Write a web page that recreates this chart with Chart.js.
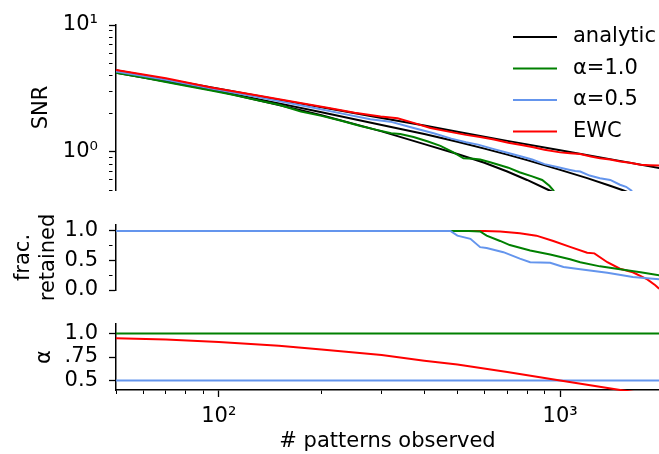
<!DOCTYPE html>
<html>
<head>
<meta charset="utf-8">
<script src="https://cdn.jsdelivr.net/npm/chart.js@4.4.1/dist/chart.umd.min.js"></script>
<style>
  html, body { margin: 0; padding: 0; background: #fff; overflow: hidden; }
  #wrap { position: relative; width: 659px; height: 454px; }
  canvas { position: absolute; left: 0; }
</style>
</head>
<body>
<div id="wrap">
  <canvas id="snrChart" width="659" height="215" style="top:0px"></canvas>
  <canvas id="fracChart" width="659" height="115" style="top:200px"></canvas>
  <canvas id="alphaChart" width="659" height="154" style="top:300px"></canvas>
</div>
<script>
// ---- data ----
const xTicks = [50, 60, 70, 80, 90, 100, 200, 300, 400, 500, 600, 700, 800, 900, 1000];
const xLabelAt = [100, 1000];
const xLabelText = ['10²', '10³'];

const snrTicks = [0.5, 0.6, 0.7, 0.8, 0.9, 1, 2, 3, 4, 5, 6, 7, 8, 9, 10];
const snrLabelAt = [1, 10];
const snrLabelText = ['10⁰', '10¹'];

const fracTicks = [0, 0.25, 0.5, 0.75, 1.0];
const fracLabelAt = [0, 0.5, 1.0];
const fracLabelText = ['0.0', '0.5', '1.0'];

const alphaTicks = [0.5, 0.75, 1.0];
const alphaLabelAt = [0.5, 0.75, 1.0];
const alphaLabelText = ['0.5', '.75', '1.0'];

const legendLabels = ['analytic', 'α=1.0', 'α=0.5', 'EWC'];

// SNR panel, analytic curves
const nAnalytic1 = [50, 70, 100, 150, 200, 300, 400, 500, 600, 700, 800, 925, 1000];
const snrAnalytic1 = [4.2, 3.58, 3.0, 2.34, 1.94, 1.45, 1.15, 0.96, 0.82, 0.70, 0.60, 0.5, 0.455];
const nAnalytic2 = [50, 70, 100, 150, 200, 300, 400, 500, 600, 700, 800, 1000, 1200, 1400, 1520, 1650];
const snrAnalytic2 = [4.3, 3.61, 3.0, 2.41, 2.05, 1.63, 1.38, 1.2, 1.06, 0.95, 0.86, 0.72, 0.62, 0.54, 0.5, 0.46];
const nAnalyticEwc = [50, 70, 100, 150, 200, 300, 400, 500, 700, 1000, 1400, 1950];
const snrAnalyticEwc = [4.4, 3.74, 3.15, 2.58, 2.25, 1.85, 1.61, 1.44, 1.22, 1.03, 0.876, 0.745];

// SNR panel, simulations
const nSimA1 = [50, 60, 70, 80, 95, 110, 130, 150, 174, 200, 230, 260, 290, 320, 340, 372, 408, 446, 487, 521, 557, 583, 620, 660, 705, 760, 828, 886, 930, 960];
const snrSimA1 = [4.21, 3.85, 3.55, 3.32, 3.04, 2.82, 2.55, 2.35, 2.08, 1.92, 1.75, 1.6, 1.49, 1.40, 1.38, 1.31, 1.21, 1.115, 0.99, 0.89, 0.88, 0.87, 0.83, 0.79, 0.75, 0.69, 0.64, 0.60, 0.54, 0.49];
const nSimA05 = [50, 70, 95, 130, 186, 230, 278, 318, 370, 426, 480, 530, 575, 640, 705, 770, 828, 900, 980, 1069, 1107, 1145, 1220, 1308, 1402, 1497, 1560, 1625];
const snrSimA05 = [4.3, 3.7, 3.15, 2.7, 2.25, 2.0, 1.81, 1.73, 1.55, 1.40, 1.27, 1.19, 1.14, 1.05, 0.98, 0.92, 0.87, 0.80, 0.76, 0.72, 0.705, 0.70, 0.65, 0.62, 0.60, 0.55, 0.53, 0.49];
const nSimEwc = [50, 70, 95, 130, 170, 212, 250, 298, 334, 370, 417, 480, 530, 583, 640, 705, 770, 828, 900, 1000, 1069, 1145, 1230, 1308, 1400, 1500, 1600, 1720, 1830, 1950];
const snrSimEwc = [4.42, 3.80, 3.21, 2.78, 2.45, 2.21, 2.03, 1.90, 1.84, 1.70, 1.54, 1.43, 1.36, 1.31, 1.25, 1.18, 1.13, 1.09, 1.04, 0.99, 0.975, 0.96, 0.92, 0.89, 0.87, 0.84, 0.82, 0.79, 0.785, 0.78];

// fraction retained
const nFracA1 = [50, 540, 583, 609, 667, 712, 817, 935, 1069, 1145, 1308, 1497, 1720, 1950];
const fracA1 = [1.0, 1.0, 0.99, 0.92, 0.83, 0.76, 0.67, 0.60, 0.52, 0.47, 0.40, 0.35, 0.30, 0.25];
const nFracA05 = [50, 477, 500, 546, 583, 609, 682, 762, 817, 935, 1023, 1145, 1375, 1633, 1950];
const fracA05 = [1.0, 1.0, 0.92, 0.866, 0.725, 0.71, 0.64, 0.53, 0.47, 0.46, 0.39, 0.35, 0.29, 0.22, 0.18];
const nFracEwc = [50, 600, 667, 762, 852, 955, 1069, 1200, 1260, 1375, 1497, 1633, 1800, 1900, 1950];
const fracEwc = [1.0, 1.0, 0.99, 0.96, 0.92, 0.83, 0.73, 0.63, 0.62, 0.47, 0.36, 0.30, 0.18, 0.08, 0.02];

// alpha per scheme
const nAlphaConst = [50, 1950];
const alphaA1 = [1.0, 1.0];
const alphaA05 = [0.5, 0.5];
const nAlphaEwc = [50, 70, 100, 150, 200, 300, 400, 500, 700, 1000, 1500, 1950];
const alphaEwc = [0.95, 0.935, 0.91, 0.87, 0.83, 0.77, 0.71, 0.67, 0.59, 0.50, 0.40, 0.34];

// ---- styling ----
const FONT = '"DejaVu Sans", sans-serif';
const C_BLACK = '#000000', C_GREEN = '#008000', C_BLUE = '#6495ED', C_RED = '#FF0000';
const legendColors = [C_BLACK, C_GREEN, C_BLUE, C_RED];
const X_MIN = 50, X_MAX = 1948;
const Y_AXIS_WIDTH = 116;
const TICK_LEN = 7;
const MINOR_DASH = [3.5, 30];   // only the first 3.5px of a minor tick is drawn

function toPoints(xs, ys) {
    return xs.map((x, i) => ({ x: x, y: ys[i] }));
}

function findLabel(v, at) {
    return at.findIndex(a => Math.abs(a - v) < 1e-6 * Math.max(1, a));
}

function labelFor(v, at, text) {
    const i = findLabel(v, at);
    return i < 0 ? '' : text[i];
}

function tickGrid(at) {
    return {
        drawOnChartArea: false,
        drawTicks: true,
        tickLength: TICK_LEN,
        tickColor: C_BLACK,
        tickWidth: c => (c.tick && findLabel(c.tick.value, at) >= 0) ? 1.3 : 1,
        tickBorderDash: c => (c.tick && findLabel(c.tick.value, at) >= 0) ? [] : MINOR_DASH
    };
}

function line(label, xs, ys, color, order) {
    return {
        label: label,
        data: toPoints(xs, ys),
        borderColor: color,
        borderWidth: 2,
        pointRadius: 0,
        tension: 0,
        fill: false,
        order: order,
        clip: 1
    };
}

function xScale(show) {
    return {
        type: 'logarithmic',
        min: X_MIN,
        max: X_MAX,
        display: show,
        afterBuildTicks: s => { s.ticks = xTicks.map(v => ({ value: v })); },
        afterFit: s => { if (show) s.height = 64; },
        border: { display: true, color: C_BLACK, width: 1.5 },
        grid: tickGrid(xLabelAt),
        ticks: {
            autoSkip: false, maxRotation: 0, minRotation: 0, padding: 7, color: C_BLACK,
            font: { family: FONT, size: 21 },
            callback: v => labelFor(v, xLabelAt, xLabelText)
        },
        title: {
            display: show, text: '# patterns observed', color: C_BLACK,
            font: { family: FONT, size: 21 }, padding: { top: 0, bottom: 0 }
        }
    };
}

function yScale(type, min, max, ticks, at, text, title, titlePad) {
    return {
        type: type,
        min: min,
        max: max,
        afterBuildTicks: s => { s.ticks = ticks.map(v => ({ value: v })); },
        afterFit: s => { s.width = Y_AXIS_WIDTH; },
        border: { display: true, color: C_BLACK, width: 1.5 },
        grid: tickGrid(at),
        ticks: {
            autoSkip: false, padding: 11, color: C_BLACK,
            font: { family: FONT, size: 21 },
            callback: v => labelFor(v, at, text)
        },
        title: {
            display: true, text: title, color: C_BLACK,
            font: { family: FONT, size: 21 }, padding: { top: titlePad, bottom: 0 }
        }
    };
}

function baseOptions(padding, scales) {
    return {
        responsive: false,
        animation: false,
        devicePixelRatio: 1,
        events: [],
        layout: { padding: padding },
        plugins: { legend: { display: false }, tooltip: { enabled: false } },
        scales: scales
    };
}

// legend drawn inside the top-right of the SNR panel
const cornerLegend = {
    id: 'cornerLegend',
    afterDraw: function (chart) {
        const ctx = chart.ctx;
        const area = chart.chartArea;
        const x0 = area.right - 146;
        const y0 = area.top + 12;
        ctx.save();
        ctx.font = '21px ' + FONT;
        ctx.textBaseline = 'middle';
        ctx.textAlign = 'left';
        ctx.fillStyle = C_BLACK;
        ctx.lineWidth = 2;
        for (let i = 0; i < legendLabels.length; i++) {
            const y = y0 + i * 31.5;
            ctx.strokeStyle = legendColors[i];
            ctx.beginPath();
            ctx.moveTo(x0, y);
            ctx.lineTo(x0 + 44, y);
            ctx.stroke();
            ctx.fillText(legendLabels[i], x0 + 60, y);
        }
        ctx.restore();
    }
};

// the y tick labels need ~25px of room below the last tick, so the upper
// canvases run 15px into the panel below them (both are transparent)
new Chart(document.getElementById('snrChart'), {
    type: 'line',
    data: {
        datasets: [
            line('analytic', nAnalytic1, snrAnalytic1, C_BLACK, 6),
            line('analytic', nAnalytic2, snrAnalytic2, C_BLACK, 5),
            line('analytic', nAnalyticEwc, snrAnalyticEwc, C_BLACK, 4),
            line('α=1.0', nSimA1, snrSimA1, C_GREEN, 3),
            line('α=0.5', nSimA05, snrSimA05, C_BLUE, 2),
            line('EWC', nSimEwc, snrSimEwc, C_RED, 1)
        ]
    },
    options: baseOptions({ top: 25, bottom: 25, left: 0, right: 0 }, {
        x: xScale(false),
        y: yScale('logarithmic', 0.5, 10, snrTicks, snrLabelAt, snrLabelText, 'SNR', 29)
    }),
    plugins: [cornerLegend]
});

new Chart(document.getElementById('fracChart'), {
    type: 'line',
    data: {
        datasets: [
            line('EWC', nFracEwc, fracEwc, C_RED, 3),
            line('α=1.0', nFracA1, fracA1, C_GREEN, 2),
            line('α=0.5', nFracA05, fracA05, C_BLUE, 1)
        ]
    },
    options: baseOptions({ top: 25, bottom: 25, left: 0, right: 0 }, {
        x: xScale(false),
        y: yScale('linear', 0, 1.1, fracTicks, fracLabelAt, fracLabelText, ['frac.', 'retained'], 11)
    })
});

new Chart(document.getElementById('alphaChart'), {
    type: 'line',
    data: {
        datasets: [
            line('α=1.0', nAlphaConst, alphaA1, C_GREEN, 3),
            line('α=0.5', nAlphaConst, alphaA05, C_BLUE, 2),
            line('EWC', nAlphaEwc, alphaEwc, C_RED, 1)
        ]
    },
    options: baseOptions({ top: 24, bottom: 0, left: 0, right: 0 }, {
        x: xScale(true),
        y: yScale('linear', 0.4, 1.1, alphaTicks, alphaLabelAt, alphaLabelText, 'α', 32)
    })
});
</script>
</body>
</html>
